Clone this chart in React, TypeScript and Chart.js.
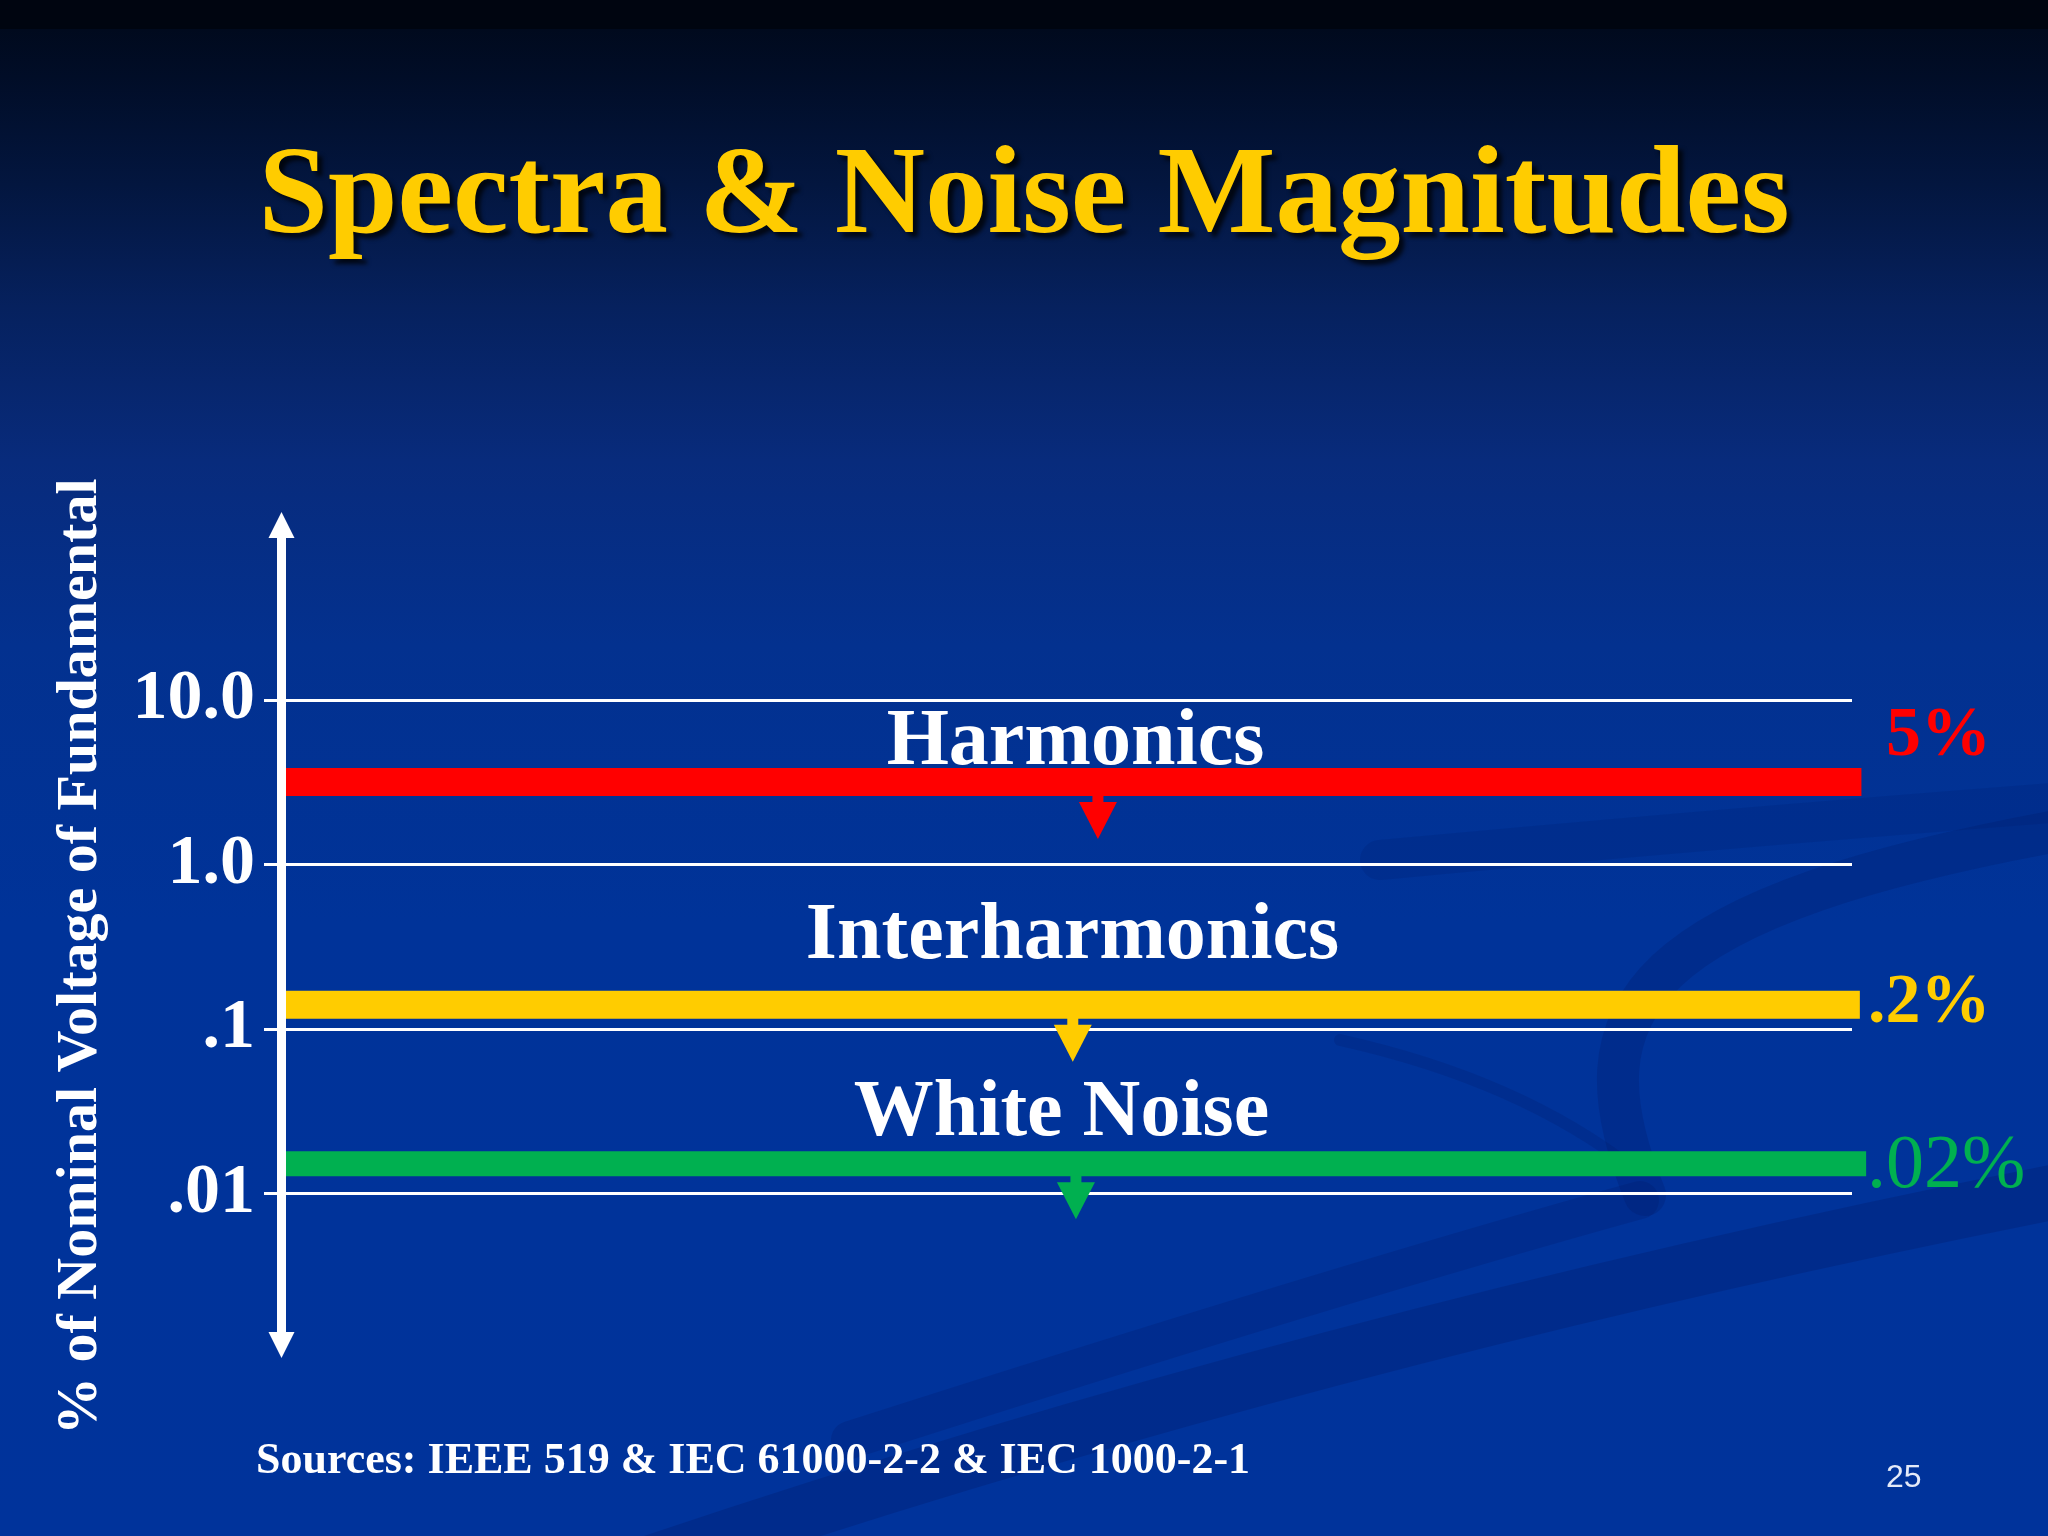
import React, { useEffect, useRef } from "react";
import { Chart, registerables } from "chart.js";

Chart.register(...registerables);

const TITLE = "Spectra & Noise Magnitudes";
const Y_AXIS_TITLE = "% of Nominal Voltage of Fundamental";
const SOURCES = "Sources: IEEE 519 & IEC 61000-2-2 & IEC 1000-2-1";
const PAGE_NUMBER = "25";

const TICK_VALUES = [10, 1, 0.1, 0.01];
const TICK_LABELS = ["10.0", "1.0", ".1", ".01"];
const Y_MIN = 0.001;
const Y_MAX = 140;

const CATEGORIES = ["Harmonics", "Interharmonics", "White Noise"];
const LEVEL_VALUES = [3.19, 0.141, 0.0152];
const LEVEL_LABELS = ["5%", ".2%", ".02%"];
const BAR_START = [0, 0, 0];
const BAR_END = [1.006, 1.005, 1.009];
const ARROW_X = [0.52, 0.504, 0.506];

const COLORS = ["#FF0000", "#FFCC00", "#00B050"];
const BAR_WIDTHS = [28, 28, 25];
const SERIF = "'Liberation Serif', 'Times New Roman', serif";
// trailing spaces shift the rotated axis title so it sits like the original
const Y_TITLE_PAD = "\u00A0\u00A0\u00A0";

const slidePlugin = {
  id: "slide",
  beforeDraw(chart: any) {
    const { ctx, width, height } = chart;
    ctx.save();
    const g = ctx.createLinearGradient(0, 0, 0, height);
    g.addColorStop(0, "#000818");
    g.addColorStop(0.05, "#010d27");
    g.addColorStop(0.12, "#03163f");
    g.addColorStop(0.2, "#06215e");
    g.addColorStop(0.3, "#082b7c");
    g.addColorStop(0.42, "#03318f");
    g.addColorStop(0.6, "#003399");
    g.addColorStop(1, "#00339b");
    ctx.fillStyle = g;
    ctx.fillRect(0, 0, width, height);
    ctx.fillStyle = "#000510";
    ctx.fillRect(0, 0, width, 29);

    // subtle background swooshes
    ctx.lineCap = "round";
    ctx.strokeStyle = "rgba(0, 22, 95, 0.26)";
    ctx.lineWidth = 55;
    ctx.beginPath();
    ctx.moveTo(600, 1580);
    ctx.quadraticCurveTo(1300, 1340, 2090, 1185);
    ctx.stroke();
    ctx.lineWidth = 38;
    ctx.strokeStyle = "rgba(0, 22, 95, 0.2)";
    ctx.beginPath();
    ctx.moveTo(850, 1440);
    ctx.quadraticCurveTo(1350, 1280, 1640, 1200);
    ctx.stroke();
    ctx.lineWidth = 42;
    ctx.strokeStyle = "rgba(0, 25, 100, 0.24)";
    ctx.beginPath();
    ctx.moveTo(1645, 1195);
    ctx.bezierCurveTo(1570, 1010, 1630, 905, 2090, 825);
    ctx.stroke();
    ctx.lineWidth = 12;
    ctx.strokeStyle = "rgba(0, 25, 100, 0.2)";
    ctx.beginPath();
    ctx.moveTo(1340, 1040);
    ctx.quadraticCurveTo(1520, 1080, 1635, 1170);
    ctx.stroke();
    ctx.lineWidth = 40;
    ctx.strokeStyle = "rgba(0, 25, 100, 0.16)";
    ctx.beginPath();
    ctx.moveTo(1380, 860);
    ctx.quadraticCurveTo(1700, 830, 2090, 800);
    ctx.stroke();
    ctx.restore();
  },
  afterDatasetsDraw(chart: any) {
    const { ctx, chartArea, scales } = chart;
    const xs = scales.x;
    const ys = scales.y;
    ctx.save();
    LEVEL_VALUES.forEach((v, i) => {
      const by = ys.getPixelForValue(v);
      const bottom = by + BAR_WIDTHS[i] / 2;
      const ax = xs.getPixelForValue(ARROW_X[i]);
      ctx.fillStyle = COLORS[i];
      ctx.fillRect(ax - 5.5, bottom - 1, 11, 8);
      ctx.beginPath();
      ctx.moveTo(ax - 19, bottom + 6);
      ctx.lineTo(ax + 19, bottom + 6);
      ctx.lineTo(ax, bottom + 43);
      ctx.closePath();
      ctx.fill();
    });

    // category labels
    const catOffsets = [-18, -47, -29];
    const catDx = [1, -2, -13];
    ctx.fillStyle = "#FFFFFF";
    ctx.font = `bold 80px ${SERIF}`;
    ctx.textAlign = "center";
    ctx.textBaseline = "alphabetic";
    CATEGORIES.forEach((c, i) => {
      const y = ys.getPixelForValue(LEVEL_VALUES[i]) + catOffsets[i];
      const x = xs.getPixelForValue(0.5) + catDx[i] + 8;
      ctx.fillText(c, x, y);
    });

    // level labels at right
    const lvlOffsets = [-27, 17, 23];
    const lvlDx = [34, 16, 15];
    const lvlFonts = [`bold 70px ${SERIF}`, `bold 70px ${SERIF}`, `76px ${SERIF}`];
    ctx.textAlign = "left";
    LEVEL_LABELS.forEach((t, i) => {
      ctx.fillStyle = COLORS[i];
      ctx.font = lvlFonts[i];
      const y = ys.getPixelForValue(LEVEL_VALUES[i]) + lvlOffsets[i];
      ctx.fillText(t, chartArea.right + lvlDx[i], y);
    });

    // vertical axis with arrowheads
    const ax = chartArea.left + 0.5;
    const top = chartArea.top;
    const bot = chartArea.bottom;
    ctx.fillStyle = "#FFFFFF";
    ctx.fillRect(ax - 4.5, top + 20, 9, bot - top - 40);
    ctx.beginPath();
    ctx.moveTo(ax, top);
    ctx.lineTo(ax + 13, top + 26);
    ctx.lineTo(ax - 13, top + 26);
    ctx.closePath();
    ctx.fill();
    ctx.beginPath();
    ctx.moveTo(ax, bot);
    ctx.lineTo(ax + 13, bot - 26);
    ctx.lineTo(ax - 13, bot - 26);
    ctx.closePath();
    ctx.fill();
    ctx.restore();
  },
  afterDraw(chart: any) {
    const { ctx, width } = chart;
    ctx.save();
    // title with shadow
    ctx.font = `bold 125px ${SERIF}`;
    ctx.textAlign = "center";
    ctx.textBaseline = "alphabetic";
    ctx.shadowColor = "rgba(0,0,0,0.75)";
    ctx.shadowOffsetX = 5;
    ctx.shadowOffsetY = 5;
    ctx.shadowBlur = 4;
    ctx.fillStyle = "#FFCC00";
    ctx.fillText(TITLE, width / 2, 232);
    ctx.shadowColor = "transparent";
    // sources
    ctx.textAlign = "left";
    ctx.fillStyle = "#FFFFFF";
    ctx.font = `bold 44px ${SERIF}`;
    ctx.fillText(SOURCES, 256, 1473);
    // page number
    ctx.font = "32px 'Liberation Sans', Arial, sans-serif";
    ctx.fillStyle = "#E4EAF8";
    ctx.fillText(PAGE_NUMBER, 1886, 1487);
    ctx.restore();
  },
};

export default function App() {
  const canvasRef = useRef<HTMLCanvasElement | null>(null);

  useEffect(() => {
    document.body.style.margin = "0";
    const canvas = canvasRef.current;
    if (!canvas) return;
    const datasets = CATEGORIES.map((name, i) => ({
      label: name,
      data: [
        { x: BAR_START[i], y: LEVEL_VALUES[i] },
        { x: BAR_END[i], y: LEVEL_VALUES[i] },
      ],
      borderColor: COLORS[i],
      backgroundColor: COLORS[i],
      borderWidth: BAR_WIDTHS[i],
      borderCapStyle: "butt" as const,
      pointRadius: 0,
      pointHoverRadius: 0,
      tension: 0,
      fill: false,
      clip: false as any,
    }));

    const chart = new Chart(canvas, {
      type: "line",
      data: { datasets },
      options: {
        animation: false,
        responsive: false,
        devicePixelRatio: 1,
        events: [],
        layout: { padding: { top: 512, bottom: 178, left: 0, right: 196 } },
        plugins: {
          legend: { display: false },
          tooltip: { enabled: false },
          title: { display: false },
        },
        scales: {
          x: { type: "linear", min: 0, max: 1, display: false },
          y: {
            type: "logarithmic",
            position: "left",
            min: Y_MIN,
            max: Y_MAX,
            afterFit: (scale: any) => {
              scale.width = 281;
            },
            afterBuildTicks: (scale: any) => {
              scale.ticks = TICK_VALUES.map((v) => ({ value: v }));
            },
            border: { display: false },
            grid: {
              color: "#FFFFFF",
              lineWidth: 3,
              tickLength: 17,
              tickColor: "#FFFFFF",
              drawTicks: true,
            },
            ticks: {
              autoSkip: false,
              color: "#FFFFFF",
              padding: 9,
              font: { family: SERIF, size: 70, weight: "bold" },
              callback: (value: any) => {
                const idx = TICK_VALUES.indexOf(Number(value));
                return idx >= 0 ? TICK_LABELS[idx] : "";
              },
            },
            title: {
              display: true,
              text: Y_AXIS_TITLE + Y_TITLE_PAD,
              color: "#FFFFFF",
              font: { family: SERIF, size: 58, weight: "bold" },
              padding: { top: 46, bottom: 0 },
            },
          },
        },
      },
      plugins: [slidePlugin],
    });
    return () => chart.destroy();
  }, []);

  return (
    <div style={{ position: "absolute", left: 0, top: 0, width: 2048, height: 1536 }}>
      <canvas ref={canvasRef} width={2048} height={1536} style={{ display: "block", width: 2048, height: 1536 }} />
    </div>
  );
}
